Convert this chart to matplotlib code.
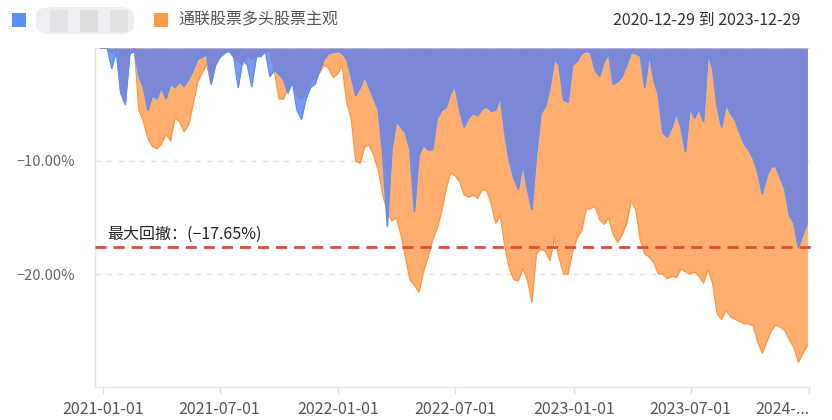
import matplotlib
matplotlib.use("Agg")
import matplotlib.pyplot as plt
from matplotlib.patches import Rectangle, FancyBboxPatch
import pandas as pd

plt.rcParams['font.family'] = ['Noto Sans CJK SC', 'DejaVu Sans']
plt.rcParams['axes.unicode_minus'] = True

# weekly drawdown (%), first point is the start date 2020-12-29
dates = [pd.Timestamp('2020-12-29')] + list(pd.date_range('2021-01-01', '2023-12-29', freq='7D'))

fund_dd = [0,
    0, 0, -1.8, -0.3, -4.0, -5.0, -0.5, -0.3, -2.5, -3.5,
    -5.5, -4.2, -4.5, -3.5, -4.5, -3.2, -3.5, -3.0, -3.4, -2.8,
    -2.0, -1.0, -0.8, -0.6, -3.2, -1.5, -0.8, -0.4, -0.3, -0.8,
    -3.5, -1.0, -1.5, -3.4, -0.8, -0.7, -0.3, -2.5, -2.0,
    -2.3, -2.8, -4.0, -3.0, -5.5, -6.3, -4.5, -3.5, -3.2, -2.0, -1.0,
    -0.5, -0.4, -0.3, -0.5, -1.0, -2.5, -4.2, -3.5, -2.5, -3.5,
    -4.5, -5.5, -9.5, -15.8, -9.0, -6.5, -7.0, -7.5, -9.0, -14.5,
    -9.5, -8.6, -9.0, -9.0, -6.3, -5.5, -5.3, -4.0,
    -3.4, -5.5, -7.0, -6.2, -5.8, -6.0, -5.4, -5.2, -5.6, -5.5, -4.3, -7.5,
    -10.0, -11.5, -12.5, -10.3, -12.5, -14.3, -9.5, -5.8, -5.2, -3.5,
    -1.0, -1.5, -4.6, -4.8, -1.5, -1.2, -0.5, -0.3, -0.4, -2.0,
    -2.5, -1.2, -0.5, -3.2, -3.0, -2.5, -1.5, -0.4,
    -0.5, -0.7, -3.5, -0.6, -2.8, -4.2, -7.5, -7.9, -7.0, -5.8, -7.0, -9.2,
    -5.3, -6.2, -5.4, -6.5, -0.5, -1.8, -5.2, -7.0, -5.0, -5.8,
    -6.4, -7.5, -8.5, -9.0, -9.8, -11.0, -12.9, -11.4, -10.5, -10.5,
    -11.5, -12.5, -14.8, -15.5, -17.65, -16.5, -15.5]

index_dd = [0,
    0, 0, -0.5, 0, -4.0, -4.5, -0.3, 0, -5.5, -6.5,
    -8.0, -8.7, -8.9, -8.5, -7.6, -8.2, -6.2, -6.5, -7.4, -6.8,
    -5.0, -3.0, -2.2, -1.4, -3.2, -1.2, -0.8, -0.5, -0.2, -0.8,
    -1.2, -1.5, -0.6, -1.0, -0.6, -0.8, -0.3, -0.3, -2.0,
    -4.5, -4.5, -3.5, -3.2, -4.2, -4.5, -4.0, -3.0, -2.6, -2.2, -1.5,
    -1.8, -2.6, -2.3, -1.5, -4.8, -6.2, -10.0, -10.2, -8.7, -8.6,
    -9.5, -10.8, -13.0, -14.5, -15.3, -15.0, -16.5, -18.5, -20.5, -21.0,
    -21.6, -19.8, -18.5, -17.0, -16.0, -14.5, -12.5, -11.0,
    -11.3, -11.8, -13.0, -13.2, -13.0, -13.3, -12.5, -12.6, -13.8, -15.5, -14.8, -17.5,
    -19.5, -20.5, -20.6, -19.5, -20.5, -22.5, -18.2, -17.8, -18.0, -18.8,
    -16.8, -18.5, -20.0, -20.0, -18.0, -16.8, -16.2, -14.3, -14.2, -14.0,
    -15.2, -15.6, -15.0, -16.5, -17.2, -16.5, -15.5, -13.5,
    -14.3, -17.0, -18.2, -18.5, -19.0, -20.0, -20.0, -20.4, -20.2, -20.3, -19.5, -19.8,
    -20.0, -19.8, -20.2, -20.8, -19.6, -20.8, -23.5, -24.0, -23.2, -23.8,
    -24.0, -24.2, -24.4, -24.4, -24.6, -26.0, -27.0, -26.0, -25.0, -24.5,
    -24.7, -25.0, -25.8, -26.5, -27.8, -27.0, -26.3]

max_dd = -17.65
index_name = '通联股票多头股票主观'
period = '2020-12-29 到 2023-12-29'
xtick_dates = ['2021-01-01', '2021-07-01', '2022-01-01', '2022-07-01',
               '2023-01-01', '2023-07-01', '2024-01-01']
xtick_labels = ['2021-01-01', '2021-07-01', '2022-01-01', '2022-07-01',
                '2023-01-01', '2023-07-01', '2024-...']
yticks = [-20, -10]

fig = plt.figure(figsize=(8.32, 4.2), dpi=100)
ax = fig.add_axes([95 / 832, 1 - 387 / 420, 715 / 832, 339 / 420])

ax.fill_between(dates, index_dd, 0, color='#FFAE70', lw=0, zorder=2)
ax.plot(dates, index_dd, color='#FF9845', lw=1, zorder=3)
ax.fill_between(dates, fund_dd, 0, color='#5B7FF0', alpha=0.8, lw=0, zorder=4)
ax.plot(dates, fund_dd, color='#5B8FF9', lw=1.1, zorder=5)

ax.axhline(max_dd, xmin=0, xmax=1.005, color='#E5493A', lw=2,
           dashes=(4, 2.5), zorder=6, clip_on=False)
ax.annotate('最大回撤：(−17.65%)', xy=(0.017, max_dd),
            xycoords=('axes fraction', 'data'), xytext=(0, 3),
            textcoords='offset points', fontsize=11.5, color='#222222',
            va='bottom', ha='left', zorder=7)

ax.set_ylim(-30, 0)
ax.set_xlim(pd.Timestamp('2020-12-20'), pd.Timestamp('2024-01-02'))
ax.set_yticks(yticks)
ax.set_yticklabels(['−20.00%', '−10.00%'])
ax.set_xticks([pd.Timestamp(d) for d in xtick_dates])
ax.set_xticklabels(xtick_labels)
# last label is truncated and sits left of its tick, as in the original
ax.get_xticklabels()[-1].set_horizontalalignment('right')

for y in [0, -10, -20]:
    ax.axhline(y, color='#E3E3E3', lw=1, dashes=(4, 4), zorder=1)

for s in ['top', 'right']:
    ax.spines[s].set_visible(False)
for s in ['left', 'bottom']:
    ax.spines[s].set_color('#E6E6E6')
    ax.spines[s].set_linewidth(1)

ax.tick_params(axis='y', length=0, pad=14, labelsize=10.5, labelcolor='#666666')
ax.tick_params(axis='x', length=5, width=1, color='#E0E0E0', pad=5,
               labelsize=11.5, labelcolor='#555555')

# legend and period label across the top
fig.add_artist(Rectangle((12 / 832, 1 - 27 / 420), 14 / 832, 14 / 420,
                         transform=fig.transFigure, color='#5B8FF9', lw=0))
fig.add_artist(FancyBboxPatch((36 / 832, 1 - 34 / 420), 98 / 832, 27 / 420,
                              boxstyle='round,pad=0,rounding_size=0.02',
                              transform=fig.transFigure, fc='#EEEFF3', ec='none'))
for x0, c in [(50, '#E4E4E6'), (80, '#DDDDDF'), (110, '#E2E2E4')]:
    fig.add_artist(Rectangle((x0 / 832, 1 - 32 / 420), 18 / 832, 22 / 420,
                             transform=fig.transFigure, color=c, lw=0))
fig.add_artist(Rectangle((154 / 832, 1 - 27 / 420), 14 / 832, 14 / 420,
                         transform=fig.transFigure, color='#FF9A4A', lw=0))
fig.text(178 / 832, 1 - 20 / 420, index_name, fontsize=11.5, color='#555555',
         va='center', ha='left')
fig.text(800 / 832, 1 - 20 / 420, period, fontsize=11.5, color='#333333',
         va='center', ha='right')

fig.savefig('out.png', dpi=100)
